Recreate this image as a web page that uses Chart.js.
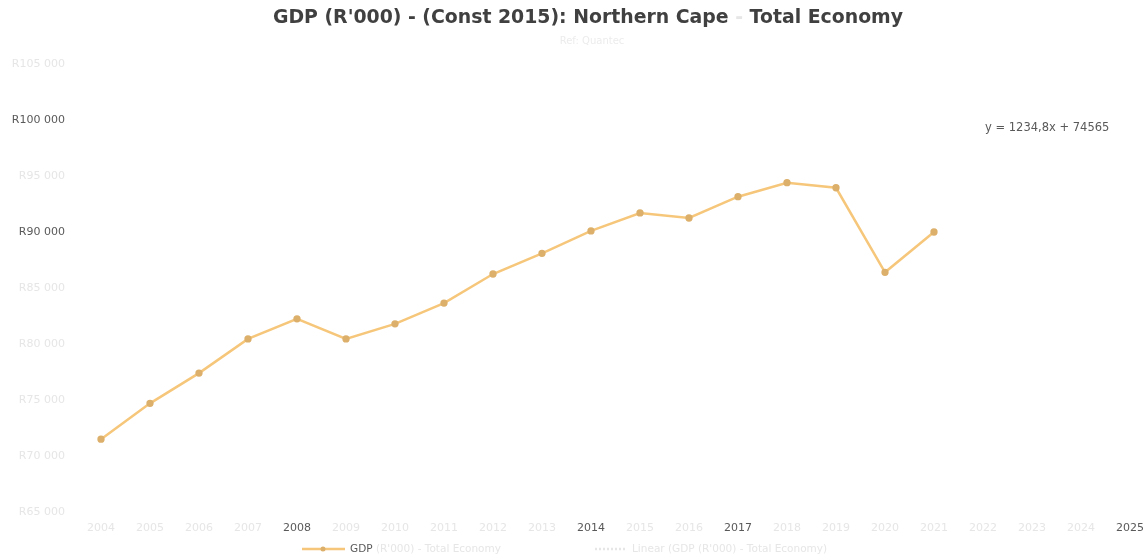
<!DOCTYPE html>
<html>
<head>
<meta charset="utf-8">
<script src="https://cdn.jsdelivr.net/npm/chart.js@4.4.1/dist/chart.umd.min.js"></script>
<style>
  html, body { margin: 0; padding: 0; background: #fff; }
  #wrap { width: 1147px; height: 560px; position: relative; }
</style>
</head>
<body>
<div id="wrap"><canvas id="gdpChart"></canvas></div>
<script>
// ── Data ──
const years = ['2004','2005','2006','2007','2008','2009','2010','2011','2012','2013','2014',
               '2015','2016','2017','2018','2019','2020','2021','2022','2023','2024','2025'];
const gdp   = [71500, 74700, 77400, 80450, 82250, 80450, 81800, 83650, 86250, 88100, 90100,
               91700, 91250, 93150, 94400, 93950, 86400, 90000, null, null, null, null];

// labels that are printed dark in the reference, the rest are washed out
const darkYears = ['2008', '2014', '2017', '2025'];
const darkYTicks = [100000, 90000];

const titleParts = [
  { text: "GDP (R'000) - (Const 2015): Northern Cape ", faint: false },
  { text: '-', faint: true },
  { text: ' Total Economy', faint: false }
];
const subtitleText = 'Ref: Quantec';
const trendText = 'y = 1234,8x + 74565';
const legendMain = 'GDP';
const legendRest = "(R'000) - Total Economy";
const legendTrend = "Linear (GDP (R'000) - Total Economy)";

// ── Styles ──
const DARK = '#595959';
const FAINT = '#e6e6e6';
const LINE = '#f6c77b';
const MARK = '#dcb06a';

const fmtR = v => 'R' + String(v).replace(/\B(?=(\d{3})+(?!\d))/g, ' ');

// ── Title / legend / equation overlay ──
const overlay = {
  id: 'overlay',
  afterDraw(chart) {
    const ctx = chart.ctx;
    ctx.save();
    ctx.textBaseline = 'middle';

    // title, font sized so it spans the reference width
    ctx.font = "bold 15px 'DejaVu Sans'";
    const full = titleParts.map(p => p.text).join('');
    const size = 15 * 630 / ctx.measureText(full).width;
    ctx.font = `bold ${size.toFixed(2)}px 'DejaVu Sans'`;
    const total = ctx.measureText(full).width;
    let x = 588 - total / 2;
    titleParts.forEach(p => {
      ctx.fillStyle = p.faint ? FAINT : '#404040';
      ctx.textAlign = 'left';
      ctx.fillText(p.text, x, 18);
      x += ctx.measureText(p.text).width;
    });

    // subtitle
    ctx.font = "10px 'DejaVu Sans'";
    ctx.fillStyle = '#ececec';
    ctx.textAlign = 'center';
    ctx.fillText(subtitleText, 592, 41);

    // trend equation
    ctx.font = "11.5px 'DejaVu Sans'";
    ctx.fillStyle = DARK;
    ctx.textAlign = 'left';
    ctx.fillText(trendText, 985, 128);

    // legend
    const ly = 549;
    ctx.strokeStyle = LINE;
    ctx.lineWidth = 2.5;
    ctx.beginPath(); ctx.moveTo(302, ly); ctx.lineTo(345, ly); ctx.stroke();
    ctx.fillStyle = MARK;
    ctx.beginPath(); ctx.arc(323, ly, 2.5, 0, Math.PI * 2); ctx.fill();
    ctx.font = "10.5px 'DejaVu Sans'";
    ctx.fillStyle = DARK;
    ctx.fillText(legendMain, 350, ly);
    const w = ctx.measureText(legendMain + ' ').width;
    ctx.fillStyle = FAINT;
    ctx.fillText(legendRest, 350 + w, ly);
    ctx.strokeStyle = FAINT;
    ctx.setLineDash([2, 2]);
    ctx.beginPath(); ctx.moveTo(595, ly); ctx.lineTo(625, ly); ctx.stroke();
    ctx.setLineDash([]);
    ctx.fillText(legendTrend, 632, ly);

    ctx.restore();
  }
};

new Chart(document.getElementById('gdpChart'), {
  type: 'line',
  data: {
    labels: years,
    datasets: [{
      label: 'GDP',
      data: gdp,
      borderColor: LINE,
      backgroundColor: MARK,
      borderWidth: 2.5,
      pointRadius: 2.4,
      pointBackgroundColor: MARK,
      pointBorderColor: MARK,
      tension: 0,
      spanGaps: false
    }]
  },
  plugins: [overlay],
  options: {
    responsive: true,
    maintainAspectRatio: false,
    animation: false,
    layout: { padding: { top: 64, right: 17, bottom: 0, left: 0 } },
    plugins: {
      legend: { display: false },
      title: { display: false },
      tooltip: { enabled: false }
    },
    scales: {
      x: {
        offset: false,
        grid: { display: false },
        border: { display: false },
        ticks: {
          autoSkip: false,
          maxRotation: 0,
          padding: 2,
          font: { family: 'DejaVu Sans', size: 11 },
          color: ctx => darkYears.includes(years[ctx.index]) ? DARK : FAINT
        },
        afterFit: s => { s.height = 48; }
      },
      y: {
        min: 65000,
        max: 105000,
        grid: { display: false, drawTicks: false },
        border: { display: false },
        ticks: {
          stepSize: 5000,
          padding: 36,
          font: { family: 'DejaVu Sans', size: 11 },
          color: ctx => darkYTicks.includes(ctx.tick.value) ? DARK : FAINT,
          callback: v => fmtR(v)
        },
        afterFit: s => { s.width = 101; }
      }
    }
  }
});
</script>
</body>
</html>
